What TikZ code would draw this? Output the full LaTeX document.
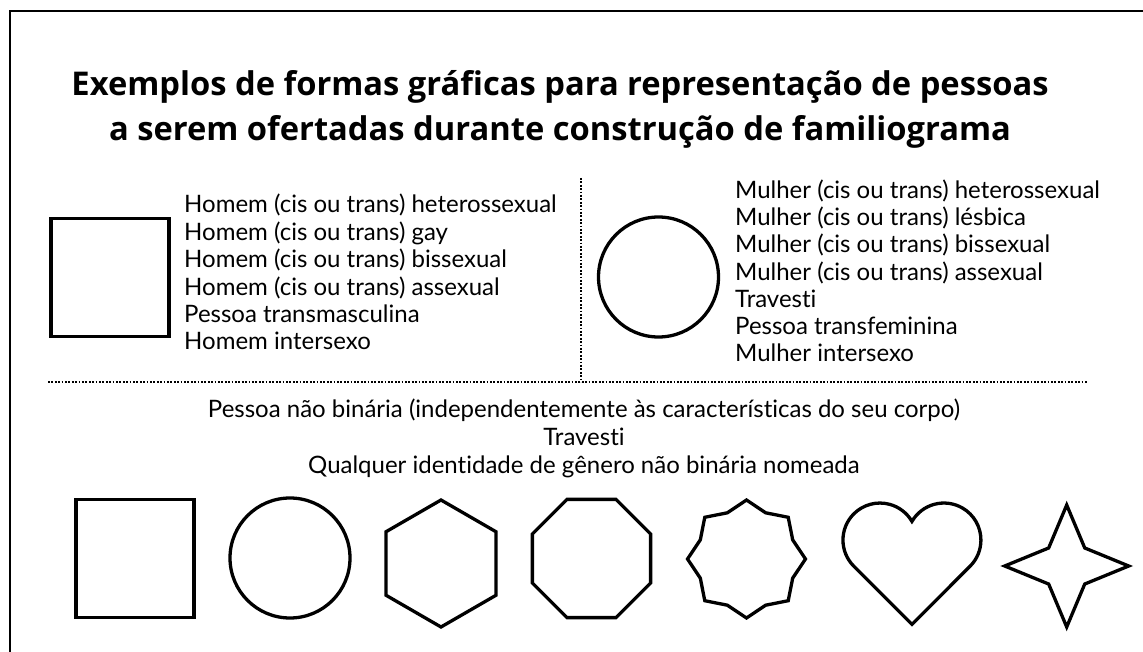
\documentclass[tikz,border=0pt]{standalone}
\usepackage{fontspec}
\setmainfont{Lato}[Ligatures={NoCommon,NoRare,NoContextual}]
\newfontfamily\titulofonte{Open Sans}
\usetikzlibrary{calc, positioning}
\tikzset{
	figura/.style = {line width=3.3pt, line join=miter},
	divisor/.style = {line width=1.8pt, dash pattern=on 1.8pt off 1.6pt},
	titulo/.style = {font=\titulofonte\bfseries\fontsize{32.7}{40}\selectfont, inner sep=0pt},
	item/.style = {font=\fontsize{24}{27}\selectfont, inner sep=0pt},
}

\begin{document}
\begin{tikzpicture}[x=1pt, y=1pt]
	\useasboundingbox (0,0) rectangle (1143,651);
	% moldura
	\draw[line width=2pt] (10,-5) -- (10,640) -- (1150,640);
	% titulo
	\node[titulo, anchor=base] (tit1) at (560,555) {Exemplos de formas gráficas para representação de pessoas};
	\node[titulo, anchor=base] (tit2) at (560,510) {a serem ofertadas durante construção de familiograma};
	% divisores
	\coordinate (v1) at (581,473);
	\coordinate (v2) at (581,269);
	\coordinate (h1) at (48,269);
	\coordinate (h2) at (1088,269);
	\draw[divisor] (v1) -- (v2);
	\draw[divisor] (h1) -- (h2);
	% homem
	\coordinate (quad) at (110,373.5);
	\draw[figura] ($(quad)+(-59,-59)$) rectangle ($(quad)+(59,59)$);
	\foreach \t [count=\i] in {Homem (cis ou trans) heterossexual, Homem (cis ou trans) gay, Homem (cis ou trans) bissexual, Homem (cis ou trans) assexual, Pessoa transmasculina, Homem intersexo}
		\node[item, anchor=base west] (homem\i) at (184, {438-27.4*(\i-1)}) {\t};
	% mulher
	\coordinate (circ) at (658.5,374);
	\draw[figura] (circ) circle[radius=60];
	\foreach \t [count=\i] in {Mulher (cis ou trans) heterossexual, Mulher (cis ou trans) lésbica, Mulher (cis ou trans) bissexual, Mulher (cis ou trans) assexual, Travesti, Pessoa transfeminina, Mulher intersexo}
		\node[item, anchor=base west] (mulher\i) at (735, {452.5-27.2*(\i-1)}) {\t};
	% nao binarie
	\foreach \t [count=\i] in {Pessoa não binária (independentemente às características do seu corpo), Travesti, Qualquer identidade de gênero não binária nomeada}
		\node[item, anchor=base] (nb\i) at (584, {233-27.5*(\i-1)}) {\t};
	% formas
	\coordinate (f1) at (135,92.5);
	\coordinate (f2) at (290,93);
	\coordinate (f3) at (441,87.5);
	\coordinate (f4) at (591.5,92.5);
	\coordinate (f5) at (746.5,92);
	\coordinate (f6) at (912,111);
	\coordinate (f7) at (1066.7,85);
	\draw[figura] ($(f1)+(-59,-59)$) rectangle ($(f1)+(59,59)$);
	\draw[figura] (f2) circle[radius=60];
	\draw[figura, shift={(f3)}] (90:63.5) \foreach \a in {150,210,...,390} {-- (\a:63.5)} -- cycle;
	\draw[figura, shift={(f4)}] (22.5:64) \foreach \k in {1,...,7} {-- ({22.5+45*\k}:64)} -- cycle;
	\draw[figura, shift={(f5)}] (90:59) \foreach \k in {0,...,7} {-- ({112.5+45*\k}:50) -- ({135+45*\k}:59)} -- cycle;
	\draw[figura] ($(f6)+(0,-84.4)$) -- ($(f6)+(-58.2,-26.2)$)
		arc[start angle=225, end angle=30.2, radius=37]
		arc[start angle=149.8, end angle=-45, radius=37] -- cycle;
	\draw[figura, shift={(f7)}] (90:61) -- (45:25.5) -- (0:62) -- (-45:25.5) -- (-90:61)
		-- (-135:25.5) -- (180:62) -- (135:25.5) -- cycle;
\end{tikzpicture}
\end{document}
